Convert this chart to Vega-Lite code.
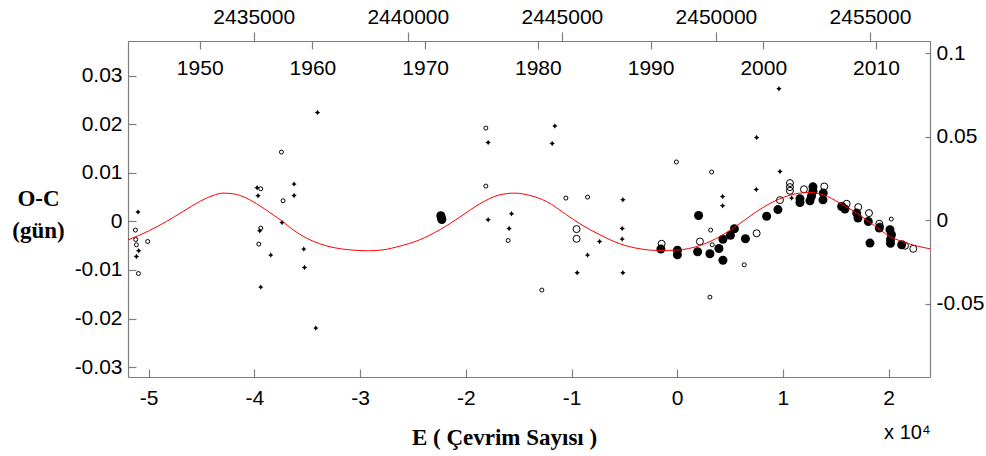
{
  "$schema": "https://vega.github.io/schema/vega-lite/v6.json",
  "width": 802,
  "height": 336,
  "autosize": {"type": "none"},
  "padding": {"left": 128, "top": 41, "right": 56, "bottom": 79},
  "background": "white",
  "config": {
    "view": {"stroke": null},
    "axis": {"grid": false, "domainColor": "#7f7f7f", "tickColor": "#7f7f7f", "labelColor": "#000000", "labelFont": "Liberation Sans", "labelFontSize": 21, "titleColor": "#000000", "domainWidth": 1.2, "tickWidth": 1.2}
  },
  "layer": [
    {
      "encoding": {
        "x": {"field": "E", "type": "quantitative", "scale": {"domain": [-51959, 23916], "nice": false, "zero": false},
          "axis": {"orient": "bottom", "values": [-50000, -40000, -30000, -20000, -10000, 0, 10000, 20000], "labelExpr": "'' + datum.value/10000", "tickSize": -8, "labelPadding": 18,
            "title": "E ( Çevrim Sayısı )", "titleFont": "Liberation Serif", "titleFontSize": 23, "titleFontWeight": "bold", "titleX": 376, "titleY": 60, "titleBaseline": "middle", "titleAlign": "center"}},
        "y": {"field": "OC", "type": "quantitative", "scale": {"domain": [-0.03206, 0.03721], "nice": false, "zero": false},
          "axis": {"orient": "left", "values": [-0.03, -0.02, -0.01, 0, 0.01, 0.02, 0.03], "labelExpr": "'' + datum.value", "tickSize": -8, "labelPadding": 14,
            "title": ["O-C", "(gün)"], "titleAngle": 0, "titleX": -90, "titleY": 157, "titleAlign": "center", "titleBaseline": "middle", "titleLineHeight": 32, "titleFont": "Liberation Serif", "titleFontSize": 23, "titleFontWeight": "bold"}}
      },
      "layer": [
        {
          "data": {"values": [
            {"E": -51011, "OC": 0.00194}, {"E": -51163, "OC": -0.00722}, {"E": -50946, "OC": -0.00604},
            {"E": -39749, "OC": 0.00695}, {"E": -39654, "OC": 0.0053}, {"E": -39494, "OC": -0.00192},
            {"E": -38453, "OC": -0.00693}, {"E": -39400, "OC": -0.01353}, {"E": -37383, "OC": -0.0002},
            {"E": -36248, "OC": 0.00771}, {"E": -36248, "OC": 0.00536}, {"E": -35329, "OC": -0.00569},
            {"E": -35263, "OC": -0.00948}, {"E": -34033, "OC": 0.02247}, {"E": -34193, "OC": -0.02198},
            {"E": -17887, "OC": 0.01629}, {"E": -17887, "OC": 0.00035}, {"E": -15673, "OC": 0.00159},
            {"E": -15900, "OC": -0.00144}, {"E": -11574, "OC": 0.01967}, {"E": -11830, "OC": 0.01608},
            {"E": -8480, "OC": -0.00693}, {"E": -9464, "OC": -0.01058}, {"E": -7344, "OC": -0.00412},
            {"E": -5139, "OC": 0.00447}, {"E": -5205, "OC": -0.00144}, {"E": -5205, "OC": -0.00363},
            {"E": -5139, "OC": -0.01058}, {"E": 4297, "OC": 0.00515}, {"E": 4297, "OC": 0.00324},
            {"E": 7514, "OC": 0.01732}, {"E": 7477, "OC": 0.0066}, {"E": 9625, "OC": 0.02736},
            {"E": 9720, "OC": 0.01031}, {"E": 10827, "OC": 0.00482}
          ]},
          "mark": {"type": "point", "shape": "M0,-1L0.35,-0.35L1,0L0.35,0.35L0,1L-0.35,0.35L-1,0L-0.35,-0.35Z", "filled": true, "color": "#000000", "size": 30, "opacity": 1}
        },
        {
          "data": {"values": [
            {"E": -51257, "OC": -0.00177}, {"E": -51229, "OC": -0.00371}, {"E": -51163, "OC": -0.0048},
            {"E": -50974, "OC": -0.01072}, {"E": -50094, "OC": -0.00412}, {"E": -39400, "OC": 0.00674},
            {"E": -39400, "OC": -0.00136}, {"E": -39589, "OC": -0.00466}, {"E": -37440, "OC": 0.01431},
            {"E": -37288, "OC": 0.00427}, {"E": -18105, "OC": 0.01926}, {"E": -18105, "OC": 0.0073},
            {"E": -15994, "OC": -0.00392}, {"E": -12805, "OC": -0.01414}, {"E": -10533, "OC": 0.00482},
            {"E": -8480, "OC": 0.00503}, {"E": -76, "OC": 0.01227}, {"E": 3256, "OC": 0.01019},
            {"E": 3161, "OC": -0.00177}, {"E": 3312, "OC": -0.0048}, {"E": 3095, "OC": -0.01559},
            {"E": 6341, "OC": -0.00893}, {"E": 20253, "OC": 0.0005}
          ]},
          "mark": {"type": "point", "shape": "circle", "filled": false, "color": "#000000", "size": 16, "strokeWidth": 1, "opacity": 1}
        },
        {
          "data": {"values": [
            {"E": -22363, "OC": 0.0012}, {"E": -22316, "OC": 0.0008}, {"E": -22269, "OC": 0.0004},
            {"E": -1543, "OC": -0.00569}, {"E": 19, "OC": -0.00594}, {"E": 19, "OC": -0.00687},
            {"E": 2025, "OC": 0.00124}, {"E": 1931, "OC": -0.00625}, {"E": 3095, "OC": -0.00666},
            {"E": 3947, "OC": -0.00557}, {"E": 4325, "OC": -0.008}, {"E": 4325, "OC": -0.00367},
            {"E": 5035, "OC": -0.00285}, {"E": 5413, "OC": -0.0015}, {"E": 6454, "OC": -0.00357},
            {"E": 8461, "OC": 0.00107}, {"E": 9530, "OC": 0.00245}, {"E": 11613, "OC": 0.00392},
            {"E": 11613, "OC": 0.0047}, {"E": 12843, "OC": 0.00715}, {"E": 12843, "OC": 0.00623},
            {"E": 12701, "OC": 0.0052}, {"E": 12559, "OC": 0.00427}, {"E": 13818, "OC": 0.00585},
            {"E": 13789, "OC": 0.00447}, {"E": 15559, "OC": 0.00309}, {"E": 15871, "OC": 0.00256},
            {"E": 16979, "OC": 0.00173}, {"E": 17102, "OC": 0.0007}, {"E": 18077, "OC": 0.0},
            {"E": 18237, "OC": -0.00445}, {"E": 19117, "OC": -0.00136}, {"E": 20130, "OC": -0.00171},
            {"E": 20272, "OC": -0.00274}, {"E": 20177, "OC": -0.00377}, {"E": 20177, "OC": -0.0045},
            {"E": 21237, "OC": -0.0048}
          ]},
          "mark": {"type": "point", "shape": "circle", "filled": true, "color": "#000000", "size": 81, "opacity": 1}
        },
        {
          "data": {"values": [
            {"E": -9521, "OC": -0.00157}, {"E": -9521, "OC": -0.00357}, {"E": -1476, "OC": -0.0046},
            {"E": 2148, "OC": -0.00412}, {"E": 7514, "OC": -0.00243}, {"E": 9720, "OC": 0.00441},
            {"E": 10666, "OC": 0.00792}, {"E": 10666, "OC": 0.00709}, {"E": 10666, "OC": 0.00633},
            {"E": 11991, "OC": 0.00664}, {"E": 13912, "OC": 0.00722}, {"E": 16032, "OC": 0.00365},
            {"E": 17130, "OC": 0.00297}, {"E": 18143, "OC": 0.00173}, {"E": 19118, "OC": -0.00047},
            {"E": 19184, "OC": -0.00103}, {"E": 21548, "OC": -0.005}, {"E": 22335, "OC": -0.00563}
          ]},
          "mark": {"type": "point", "shape": "circle", "filled": false, "color": "#000000", "size": 49, "strokeWidth": 1, "opacity": 1}
        },
        {
          "data": {"values": [
            {"E": -51958, "OC": -0.0038}, {"E": -49905, "OC": -0.00185}, {"E": -48325, "OC": 0.0},
            {"E": -46754, "OC": 0.00206}, {"E": -45174, "OC": 0.00412}, {"E": -43913, "OC": 0.00536},
            {"E": -42967, "OC": 0.00585}, {"E": -42021, "OC": 0.00571}, {"E": -40752, "OC": 0.00482},
            {"E": -39494, "OC": 0.00324}, {"E": -38235, "OC": 0.00138}, {"E": -37440, "OC": 0.0002},
            {"E": -36342, "OC": -0.00171}, {"E": -35074, "OC": -0.00343}, {"E": -33815, "OC": -0.0046},
            {"E": -32556, "OC": -0.00536}, {"E": -30976, "OC": -0.00584}, {"E": -29245, "OC": -0.00604},
            {"E": -27825, "OC": -0.00584}, {"E": -26244, "OC": -0.00508}, {"E": -24351, "OC": -0.00377},
            {"E": -22458, "OC": -0.00171}, {"E": -20565, "OC": 0.00091}, {"E": -18672, "OC": 0.00365},
            {"E": -16780, "OC": 0.0055}, {"E": -15360, "OC": 0.00585}, {"E": -13940, "OC": 0.00536},
            {"E": -12360, "OC": 0.00412}, {"E": -10467, "OC": 0.00138}, {"E": -9208, "OC": -0.00047},
            {"E": -7315, "OC": -0.00274}, {"E": -5423, "OC": -0.0046}, {"E": -3530, "OC": -0.00563},
            {"E": -1637, "OC": -0.00598}, {"E": -57, "OC": -0.0059}, {"E": 2148, "OC": -0.00495},
            {"E": 4041, "OC": -0.00309}, {"E": 5934, "OC": -0.0004}, {"E": 7827, "OC": 0.00250},
            {"E": 9720, "OC": 0.00470}, {"E": 11613, "OC": 0.00585}, {"E": 12559, "OC": 0.00598},
            {"E": 13818, "OC": 0.0055}, {"E": 15398, "OC": 0.00379}, {"E": 16979, "OC": 0.00173},
            {"E": 18550, "OC": -0.00068}, {"E": 20130, "OC": -0.00309}, {"E": 21711, "OC": -0.00445},
            {"E": 23916, "OC": -0.00563}
          ]},
          "mark": {"type": "line", "color": "#ff0000", "strokeWidth": 1, "interpolate": "monotone", "clip": true}
        }
      ]
    },
    {
      "data": {"values": [{"year": 1943.636}, {"year": 2014.793}]},
      "mark": {"type": "point", "opacity": 0},
      "encoding": {
        "x": {"field": "year", "type": "quantitative", "scale": {"domain": [1943.636, 2014.793], "nice": false, "zero": false},
          "axis": {"orient": "bottom", "offset": -336, "values": [1950, 1960, 1970, 1980, 1990, 2000, 2010], "labelExpr": "'' + datum.value", "tickSize": 8, "labelPadding": 8, "title": null}}
      }
    },
    {
      "data": {"values": [{"jd": 2430919}, {"jd": 2456948}]},
      "mark": {"type": "point", "opacity": 0},
      "encoding": {
        "x": {"field": "jd", "type": "quantitative", "scale": {"domain": [2430919, 2456948], "nice": false, "zero": false},
          "axis": {"orient": "top", "values": [2435000, 2440000, 2445000, 2450000, 2455000], "labelExpr": "'' + datum.value", "tickSize": 9, "labelPadding": 5, "title": null}}
      }
    },
    {
      "data": {"values": [{"r": -0.09388}, {"r": 0.10734}]},
      "mark": {"type": "point", "opacity": 0},
      "encoding": {
        "y": {"field": "r", "type": "quantitative", "scale": {"domain": [-0.09388, 0.10734], "nice": false, "zero": false},
          "axis": {"orient": "right", "values": [-0.05, 0, 0.05, 0.1], "labelExpr": "'' + datum.value", "tickSize": -5, "labelPadding": 11, "title": null}}
      }
    },
    {
      "data": {"values": [{"v": 0}, {"v": 1}]},
      "mark": {"type": "point", "opacity": 0},
      "encoding": {
        "x": {"field": "v", "type": "quantitative", "scale": {"domain": [0, 1], "nice": false, "zero": false},
          "axis": {"orient": "bottom", "labels": false, "ticks": false, "domain": false, "title": "x 10⁴", "titleFont": "Liberation Sans", "titleFontSize": 20, "titleFontWeight": "normal", "titleX": 802, "titleY": 55, "titleAlign": "right", "titleBaseline": "middle"}}
      }
    }
  ],
  "resolve": {"scale": {"x": "independent", "y": "independent"}}
}
